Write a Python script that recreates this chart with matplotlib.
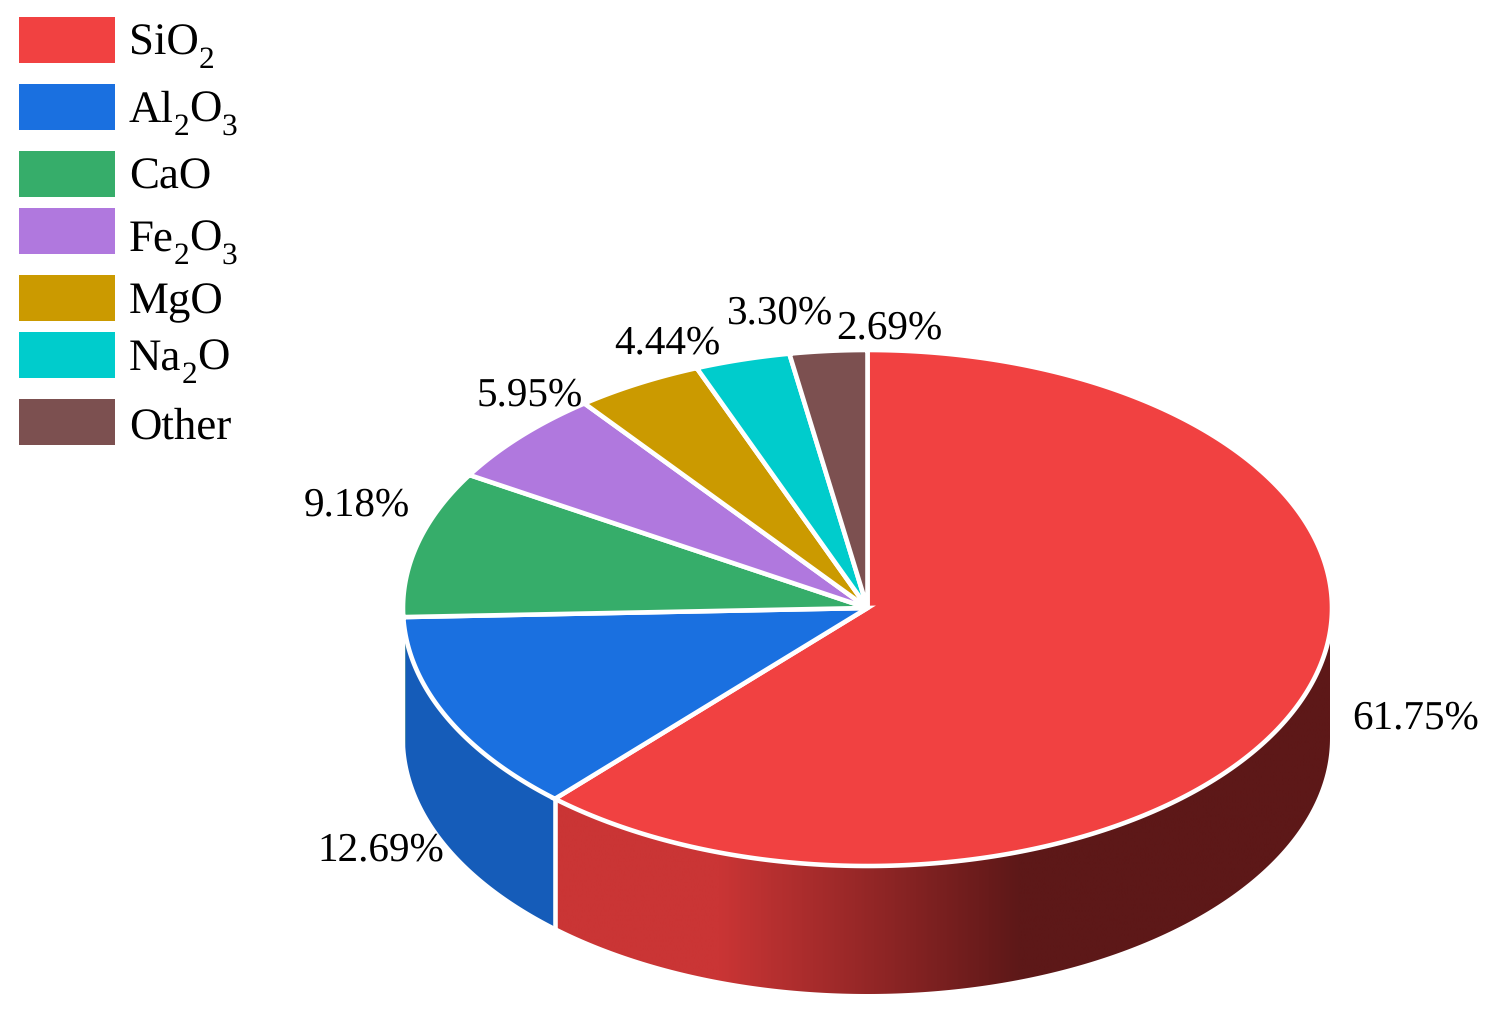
import numpy as np
import matplotlib
matplotlib.use('Agg')
import matplotlib.pyplot as plt
from matplotlib.colors import LinearSegmentedColormap
from matplotlib.patches import Polygon, Rectangle

plt.rcParams['font.family'] = ['Liberation Serif', 'DejaVu Serif']
plt.rcParams['text.hinting'] = 'none'

# composition, clockwise from 12 o'clock
names = [
    [('SiO', 0), ('2', 1)],
    [('Al', 0), ('2', 1), ('O', 0), ('3', 1)],
    [('CaO', 0)],
    [('Fe', 0), ('2', 1), ('O', 0), ('3', 1)],
    [('MgO', 0)],
    [('Na', 0), ('2', 1), ('O', 0)],
    [('Other', 0)],
]
values = [61.75, 12.69, 9.18, 5.95, 4.44, 3.30, 2.69]
colors = ['#F14141', '#1A70E0', '#36AD6A', '#B078DE', '#CB9A00', '#00CCCC', '#7C5050']
side_colors = ['#CA3535', '#155CB9', '#2B8A55', '#8C60B1', '#A27B00', '#00A3A3', '#634040']

# dark band along the front of the SiO2 wall
red_stops = ['#CA3535', '#CA3535', '#5D1818', '#5D1818']
red_stop_pos = [0.0, 0.21, 0.6, 1.0]

# layout, in pixels of the 1493x1011 picture
cx, cy = 867.5, 608
rx, ry = 464.5, 258
side_rx, side_ry = 462.5, 256
depth = 130
edge_lw = 3.3

label_xy = [(1416, 719), (381, 851), (357, 506), (530, 396), (667, 344), (779, 314), (889, 329)]
swatch_top = [17, 84, 151, 208, 275, 332, 399]
text_base = [55, 122, 189, 251, 313, 370, 439]


def rim(t, a, b, dy=0):
    t = np.radians(t)
    return np.column_stack([cx + a * np.sin(t), cy + dy - b * np.cos(t)])


fig = plt.figure(figsize=(14.93, 10.11), dpi=100)
ax = fig.add_axes([0, 0, 1, 1])
ax.set_xlim(0, 1493)
ax.set_ylim(1011, 0)

# slice angles
ends = np.cumsum(values) / np.sum(values) * 360
starts = np.r_[0, ends[:-1]]

# walls, only the front half of the drum shows
for i in range(len(values)):
    t0, t1 = max(starts[i], 90), min(ends[i], 270)
    if t1 <= t0:
        continue
    ts = np.linspace(t0, t1, 200)
    pts = np.vstack([rim(ts, side_rx, side_ry), rim(ts[::-1], side_rx, side_ry, depth)])
    if i == 0:
        wall = Polygon(pts, closed=True, fc='none', ec='none')
        ax.add_patch(wall)
        cmap = LinearSegmentedColormap.from_list('wall', list(zip(red_stop_pos, red_stops)))
        x0, x1 = pts[:, 0].min(), pts[:, 0].max()
        y0, y1 = pts[:, 1].min(), pts[:, 1].max()
        im = ax.imshow(np.linspace(0, 1, 512)[None, :], cmap=cmap, vmin=0, vmax=1,
                       extent=[x0, x1, y1, y0], aspect='auto', interpolation='bilinear')
        im.set_clip_path(wall)
    else:
        ax.add_patch(Polygon(pts, closed=True, fc=side_colors[i], ec='none'))

# white seam between the two visible walls
seam = rim(np.array([ends[0]]), rx, ry)[0]
ax.plot([seam[0], seam[0]], [seam[1], seam[1] + depth + 2], color='white', lw=edge_lw, solid_capstyle='butt')

# top face
for i in range(len(values)):
    ts = np.linspace(starts[i], ends[i], 300)
    pts = np.vstack([[cx, cy], rim(ts, rx, ry)])
    ax.add_patch(Polygon(pts, closed=True, fc=colors[i], ec='white', lw=edge_lw, joinstyle='miter'))

for (x, y), v in zip(label_xy, values):
    ax.text(x, y, f'{v:.2f}%', fontsize=29.6, ha='center', va='center', color='black')

# legend, subscripts are set by hand because they hang lower than mathtext puts them
renderer = fig.canvas.get_renderer()
for i in range(len(names)):
    ax.add_patch(Rectangle((19, swatch_top[i]), 96, 46, fc=colors[i], ec='none'))
    x = 129
    for part, is_sub in names[i]:
        y = text_base[i] + (13 if is_sub else 0)
        t = ax.text(x, y, part, fontsize=22.6 if is_sub else 32.3, ha='left', va='baseline', color='black')
        x += t.get_window_extent(renderer).width

ax.axis('off')

fig.savefig('out.png', dpi=100, facecolor='white')
